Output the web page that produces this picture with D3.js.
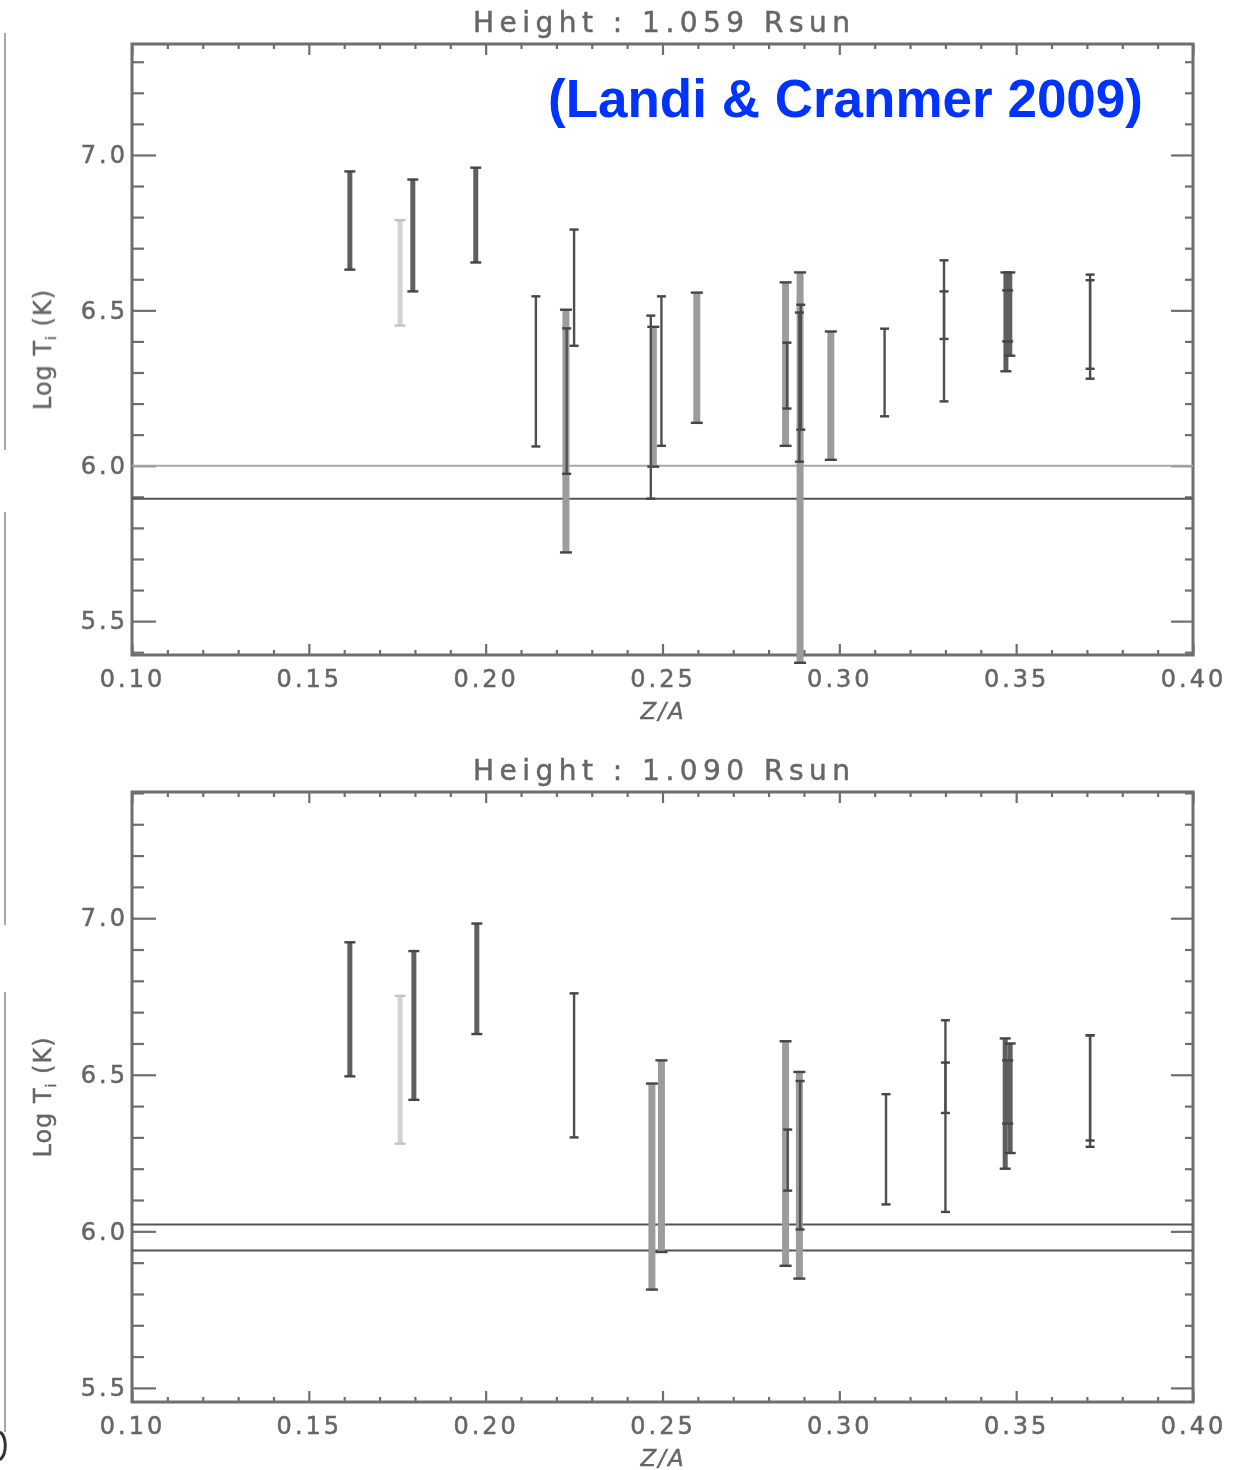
<!DOCTYPE html>
<html><head><meta charset="utf-8">
<script src="https://cdn.jsdelivr.net/npm/d3@7"></script>
<style>body{margin:0;background:#fff}svg{display:block}</style>
</head><body><svg id="c" width="1255" height="1470"></svg>
<script>
// ---- data ----
const titles = ["Height : 1.059 Rsun", "Height : 1.090 Rsun"];
const xMajorTicks = [0.10, 0.15, 0.20, 0.25, 0.30, 0.35, 0.40];
const yMajorTicks = [5.5, 6.0, 6.5, 7.0];
const xDomain = [0.10, 0.40];
const yDomainTop = [5.391, 7.357];
const yDomainBot = [5.455, 7.403];

// top panel (1.059 Rsun): Z/A, upper and lower log Ti, ion group
const zaTop  = [0.1616,0.1758,0.1794,0.1972,0.2142,0.2227,0.2229,0.2250,0.2467,0.2474,0.2497,0.2597,0.2848,0.2852,0.2889,0.2891,0.2887,0.2976,0.3128,0.3296,0.3296,0.3471,0.3482,0.3476,0.3709,0.3709];
const hiTop  = [6.947,6.790,6.921,6.959,6.545,6.502,6.442,6.760,6.483,6.447,6.545,6.557,6.590,6.396,6.622,6.518,6.493,6.432,6.441,6.661,6.561,6.622,6.622,6.564,6.615,6.597];
const loTop  = [6.631,6.451,6.561,6.654,6.062,5.721,5.974,6.386,5.894,5.997,6.064,6.138,6.064,6.184,5.366,6.116,6.013,6.019,6.159,6.408,6.207,6.304,6.354,6.400,6.312,6.280];
const grpTop = ["A","B","A","A","D","C","D","D","D","C","D","C","C","D","C","D","D","C","D","D","D","A","A","A","D","D"];
const refTop = [6.0, 5.894];

// bottom panel (1.090 Rsun)
const zaBot  = [0.1616,0.1758,0.1797,0.1975,0.2250,0.2470,0.2497,0.2848,0.2854,0.2887,0.2889,0.3132,0.3300,0.3300,0.3469,0.3483,0.3476,0.3709,0.3709];
const hiBot  = [6.923,6.752,6.895,6.983,6.760,6.472,6.546,6.607,6.325,6.509,6.480,6.438,6.674,6.539,6.616,6.600,6.546,6.626,6.626];
const loBot  = [6.495,6.280,6.420,6.630,6.300,5.814,5.934,5.890,6.130,5.849,6.006,6.086,6.378,6.062,6.200,6.250,6.344,6.270,6.290];
const grpBot = ["A","B","A","A","D","C","C","C","D","C","D","D","D","D","A","A","A","D","D"];
const refBot = [6.022, 5.939];

// ---- drawing ----
const svg = d3.select("#c");
const FONT = "'Liberation Sans', Arial, sans-serif";
const FONT2 = "'DejaVu Sans', sans-serif";
const grey = "#6e6e6e";
const textGrey = "#666";
const styleOf = {
  A: {stroke: "#5e5e5e", w: 5, cap: 11},
  B: {stroke: "#d2d2d2", w: 5, cap: 11},
  C: {stroke: "#9c9c9c", w: 7, cap: 12},
  D: {stroke: "#505050", w: 2.4, cap: 9}
};

const defs = svg.append("defs");
defs.append("filter").attr("id","soft").append("feGaussianBlur").attr("stdDeviation", 0.6);
defs.append("filter").attr("id","softT").append("feGaussianBlur").attr("stdDeviation", 0.5);

const panels = [
  {top: 44, bottom: 655, title: titles[0], yd: yDomainTop, za: zaTop, hi: hiTop, lo: loTop, grp: grpTop, ref: refTop, refCol: ["#a8a8a8", "#555"]},
  {top: 792, bottom: 1402, title: titles[1], yd: yDomainBot, za: zaBot, hi: hiBot, lo: loBot, grp: grpBot, ref: refBot, refCol: ["#555", "#555"]}
];
const left = 132, right = 1193;

panels.forEach(p => {
  const x = d3.scaleLinear().domain(xDomain).range([left, right]);
  const y = d3.scaleLinear().domain(p.yd).range([p.bottom, p.top]);
  const g = svg.append("g").attr("filter", "url(#soft)");
  const gt = svg.append("g").attr("filter", "url(#softT)");

  const xMinor = d3.range(0, 31).map(i => +(0.10 + i * 0.01).toFixed(2)).filter(v => !xMajorTicks.some(m => Math.abs(m - v) < 1e-6));
  const yMinor = d3.range(Math.ceil(p.yd[0] * 10), Math.floor(p.yd[1] * 10) + 1).map(v => v / 10).filter(v => !yMajorTicks.some(m => Math.abs(m - v) < 1e-6));

  const styleAxis = sel => {
    sel.select(".domain").remove();
    sel.selectAll(".tick line").attr("stroke", grey).attr("stroke-width", 2.2);
    sel.selectAll(".tick text").attr("fill", textGrey).attr("stroke", textGrey).attr("stroke-width", 0.5)
      .attr("font-family", FONT2).attr("font-size", 24);
  };

  // bottom axis (labels)
  gt.append("g").attr("transform", `translate(0,${p.bottom})`)
    .call(d3.axisBottom(x).tickValues(xMajorTicks).tickSizeInner(0).tickSizeOuter(0).tickPadding(15).tickFormat(d3.format(".2f")))
    .call(styleAxis)
    .call(s => s.selectAll(".tick line").remove())
    .call(s => s.selectAll(".tick text").attr("letter-spacing", 3));
  g.append("g").attr("transform", `translate(0,${p.bottom})`)
    .call(d3.axisBottom(x).tickValues(xMajorTicks).tickSizeInner(-11).tickSizeOuter(0).tickFormat(""))
    .call(styleAxis);
  g.append("g").attr("transform", `translate(0,${p.bottom})`)
    .call(d3.axisBottom(x).tickValues(xMinor).tickSizeInner(-5).tickSizeOuter(0).tickFormat(""))
    .call(styleAxis);
  // top axis
  g.append("g").attr("transform", `translate(0,${p.top})`)
    .call(d3.axisTop(x).tickValues(xMajorTicks).tickSizeInner(-11).tickSizeOuter(0).tickFormat(""))
    .call(styleAxis);
  g.append("g").attr("transform", `translate(0,${p.top})`)
    .call(d3.axisTop(x).tickValues(xMinor).tickSizeInner(-5).tickSizeOuter(0).tickFormat(""))
    .call(styleAxis);
  // left axis
  g.append("g").attr("transform", `translate(${left},0)`)
    .call(d3.axisLeft(y).tickValues(yMajorTicks).tickSizeInner(-24).tickSizeOuter(0).tickFormat(""))
    .call(styleAxis);
  gt.append("g").attr("transform", `translate(${left},0)`)
    .call(d3.axisLeft(y).tickValues(yMajorTicks).tickSizeInner(0).tickSizeOuter(0).tickPadding(4).tickFormat(d3.format(".1f")))
    .call(styleAxis)
    .call(s => s.selectAll(".tick line").remove())
    .call(s => s.selectAll(".tick text").attr("letter-spacing", 3));
  g.append("g").attr("transform", `translate(${left},0)`)
    .call(d3.axisLeft(y).tickValues(yMinor).tickSizeInner(-12).tickSizeOuter(0).tickFormat(""))
    .call(styleAxis);
  // right axis
  g.append("g").attr("transform", `translate(${right},0)`)
    .call(d3.axisRight(y).tickValues(yMajorTicks).tickSizeInner(-22).tickSizeOuter(0).tickFormat(""))
    .call(styleAxis);
  g.append("g").attr("transform", `translate(${right},0)`)
    .call(d3.axisRight(y).tickValues(yMinor).tickSizeInner(-8).tickSizeOuter(0).tickFormat(""))
    .call(styleAxis);

  // frame
  g.append("rect").attr("x", left).attr("y", p.top).attr("width", right - left).attr("height", p.bottom - p.top)
    .attr("fill", "none").attr("stroke", grey).attr("stroke-width", 3);

  // reference lines
  p.ref.forEach((v, i) => {
    g.append("line").attr("x1", left).attr("x2", right).attr("y1", y(v)).attr("y2", y(v))
      .attr("stroke", p.refCol[i]).attr("stroke-width", 2);
  });

  // error bars
  const bars = p.za.map((z, i) => ({z, hi: p.hi[i], lo: p.lo[i], grp: p.grp[i]}));
  const order = ["B", "C", "A", "D"];
  bars.sort((a, b) => order.indexOf(a.grp) - order.indexOf(b.grp));
  const bg = g.append("g");
  bars.forEach(d => {
    const st = styleOf[d.grp];
    const cx = x(d.z);
    bg.append("line").attr("x1", cx).attr("x2", cx).attr("y1", y(d.hi)).attr("y2", y(d.lo))
      .attr("stroke", st.stroke).attr("stroke-width", st.w);
    [d.hi, d.lo].forEach(v => {
      bg.append("line").attr("x1", cx - st.cap / 2).attr("x2", cx + st.cap / 2).attr("y1", y(v)).attr("y2", y(v))
        .attr("stroke", d.grp === "B" ? "#c4c4c4" : "#444").attr("stroke-width", 2.4);
    });
  });

  // title
  gt.append("text").attr("x", 473).attr("y", p.top - 12)
    .attr("textLength", 377).attr("lengthAdjust", "spacing")
    .attr("font-family", FONT2).attr("font-size", 28).attr("fill", textGrey)
    .attr("stroke", textGrey).attr("stroke-width", 0.5).text(p.title);

  // x label
  gt.append("text").attr("x", 663).attr("y", p.bottom + 64).attr("text-anchor", "middle")
    .attr("font-family", FONT2).attr("font-size", 23).attr("font-style", "italic").attr("fill", textGrey)
    .attr("stroke", textGrey).attr("stroke-width", 0.4).attr("letter-spacing", 2).text("Z/A");

  // y label
  const cy = (p.top + p.bottom) / 2;
  const yl = gt.append("text").attr("transform", `translate(51,${cy}) rotate(-90)`).attr("text-anchor", "middle")
    .attr("font-family", FONT2).attr("font-size", 24).attr("fill", textGrey)
    .attr("stroke", textGrey).attr("stroke-width", 0.4).attr("letter-spacing", 1);
  yl.append("tspan").text("Log T");
  yl.append("tspan").attr("font-size", 14).attr("dy", 5).text("i");
  yl.append("tspan").attr("dy", -5).text(" (K)");
});

// citation annotation
svg.append("text").attr("x", 548).attr("y", 117)
  .attr("font-family", FONT).attr("font-weight", "bold").attr("font-size", 53)
  .attr("fill", "#0033ff").text("(Landi & Cranmer 2009)");

// cropped-edge artefacts at the left border (pieces of a neighbouring figure)
[[33, 450], [512, 925], [992, 1432]].forEach(([a, b]) => {
  svg.append("line").attr("x1", 5).attr("x2", 5).attr("y1", a).attr("y2", b)
    .attr("stroke", "#8a8a8a").attr("stroke-width", 1.5);
});
svg.append("path").attr("d", "M0,1432 C6,1436 8,1452 0,1460")
  .attr("fill", "none").attr("stroke", "#333").attr("stroke-width", 3);
</script></body></html>
